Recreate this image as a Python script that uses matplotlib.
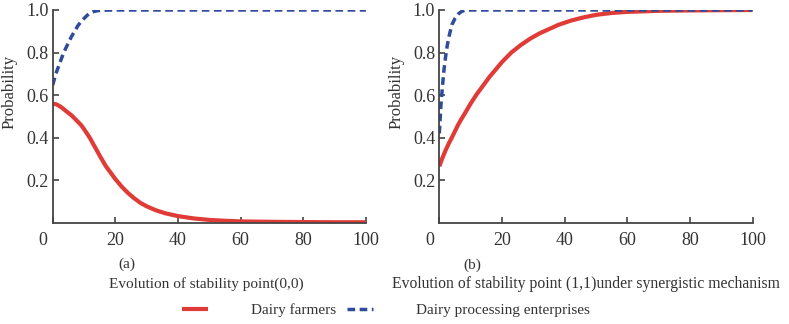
import matplotlib
matplotlib.use("Agg")
import matplotlib.pyplot as plt
from matplotlib.transforms import ScaledTranslation

plt.rcParams['font.family'] = ['Liberation Serif', 'DejaVu Serif']

# panel (a): evolution of stability point (0,0)
t_farm_a = [0, 1, 2, 3, 4, 5, 6, 7, 8, 9, 10, 11, 12, 13, 14, 15, 16, 17, 18, 19,
            20, 22, 24, 26, 28, 30, 33, 36, 40, 45, 50, 55, 60, 70, 80, 90, 100]
farm_a = [0.56, 0.557, 0.55, 0.54, 0.528, 0.516, 0.505, 0.49, 0.475, 0.46, 0.44,
          0.418, 0.395, 0.368, 0.342, 0.315, 0.29, 0.265, 0.245, 0.225, 0.205,
          0.17, 0.14, 0.115, 0.093, 0.077, 0.058, 0.044, 0.031, 0.02, 0.013,
          0.009, 0.006, 0.004, 0.003, 0.002, 0.002]
t_ent_a = [0, 1, 2, 3, 4, 5, 6, 7, 8, 9, 10, 11, 12, 13, 14, 16, 20, 100]
ent_a = [0.647, 0.70, 0.74, 0.78, 0.815, 0.845, 0.875, 0.90, 0.925, 0.945, 0.96,
         0.975, 0.985, 0.992, 0.996, 0.999, 1.0, 1.0]

# panel (b): evolution of stability point (1,1)
t_farm_b = [0, 1, 2, 3, 4, 5, 6, 7, 8, 9, 10, 12, 14, 16, 18, 20, 23, 26, 29, 32,
            35, 38, 42, 46, 50, 55, 60, 70, 80, 90, 100]
farm_b = [0.265, 0.305, 0.34, 0.372, 0.40, 0.43, 0.46, 0.486, 0.51, 0.535, 0.56,
          0.605, 0.645, 0.685, 0.72, 0.755, 0.80, 0.835, 0.865, 0.89, 0.91, 0.93,
          0.95, 0.965, 0.977, 0.986, 0.991, 0.996, 0.998, 0.999, 1.0]
t_ent_b = [0, 0.5, 1, 1.5, 2, 2.5, 3, 3.5, 4, 5, 6, 7, 8, 10, 100]
ent_b = [0.42, 0.55, 0.64, 0.72, 0.78, 0.83, 0.87, 0.90, 0.93, 0.96, 0.98, 0.992,
         0.998, 1.0, 1.0]

x_ticks = [0, 20, 40, 60, 80, 100]
y_ticks = [0.2, 0.4, 0.6, 0.8, 1.0]
series_names = ["Dairy farmers", "Dairy processing enterprises"]
panel_tags = ["(a)", "(b)"]
captions = ["Evolution of stability point(0,0)",
            "Evolution of stability point (1,1)under synergistic mechanism"]

red = "#e03b36"
blue = "#2f4b9c"
gray = "#444444"

fig = plt.figure(figsize=(7.89, 3.24), dpi=100)
ax_a = fig.add_axes([0.0668, 0.3127, 0.397, 0.6565])
ax_b = fig.add_axes([0.5568, 0.3127, 0.397, 0.6565])

panels = [(ax_a, t_farm_a, farm_a, t_ent_a, ent_a),
          (ax_b, t_farm_b, farm_b, t_ent_b, ent_b)]
handles = []
for ax, tf, yf, te, ye in panels:
    l1, = ax.plot(tf, yf, color=red, lw=3.0, solid_capstyle='butt')
    l2, = ax.plot(te, ye, color=blue, lw=2.5, linestyle=(0, (2.2, 1.3)),
                  dash_capstyle='butt')
    handles = [l1, l2]
    ax.set_xlim(0, 100)
    ax.set_ylim(0, 1.0)
    ax.set_xticks(x_ticks)
    ax.set_yticks(y_ticks)
    ax.set_xticklabels([str(v) for v in x_ticks])
    ax.set_yticklabels([f"{v:.1f}" for v in y_ticks])
    for s in ['top', 'right']:
        ax.spines[s].set_visible(False)
    for s in ['left', 'bottom']:
        ax.spines[s].set_color(gray)
        ax.spines[s].set_linewidth(1.3)
    ax.tick_params(direction='in', length=4, width=1.2, color=gray,
                   labelsize=13, labelcolor="#333333")
    ax.tick_params(axis='x', pad=7)
    ax.tick_params(axis='y', pad=3)
    ax.set_ylabel("Probability", fontsize=12, color="#333333")
    ax.yaxis.set_label_coords(-0.112, 0.615)
    # the origin label sits left of the axis corner
    first = ax.get_xticklabels()[0]
    first.set_transform(first.get_transform() +
                        ScaledTranslation(-0.095, 0, fig.dpi_scale_trans))

fig.text(127 / 789, 1 - 264 / 324, panel_tags[0], fontsize=11, color="#333333",
         ha='center', va='center')
fig.text(472 / 789, 1 - 265 / 324, panel_tags[1], fontsize=11, color="#333333",
         ha='center', va='center')
fig.text(206 / 789, 1 - 284 / 324, captions[0], fontsize=11, color="#333333",
         ha='center', va='center')
fig.text(586 / 789, 1 - 284 / 324, captions[1], fontsize=11.3, color="#333333",
         ha='center', va='center')

fig.legend(handles, series_names, loc='center', bbox_to_anchor=(0.489, 0.043),
           ncol=2, frameon=False, fontsize=11, handlelength=1.7,
           handletextpad=2.8, columnspacing=0.7, labelcolor="#333333")

fig.savefig("out.png", dpi=100)
